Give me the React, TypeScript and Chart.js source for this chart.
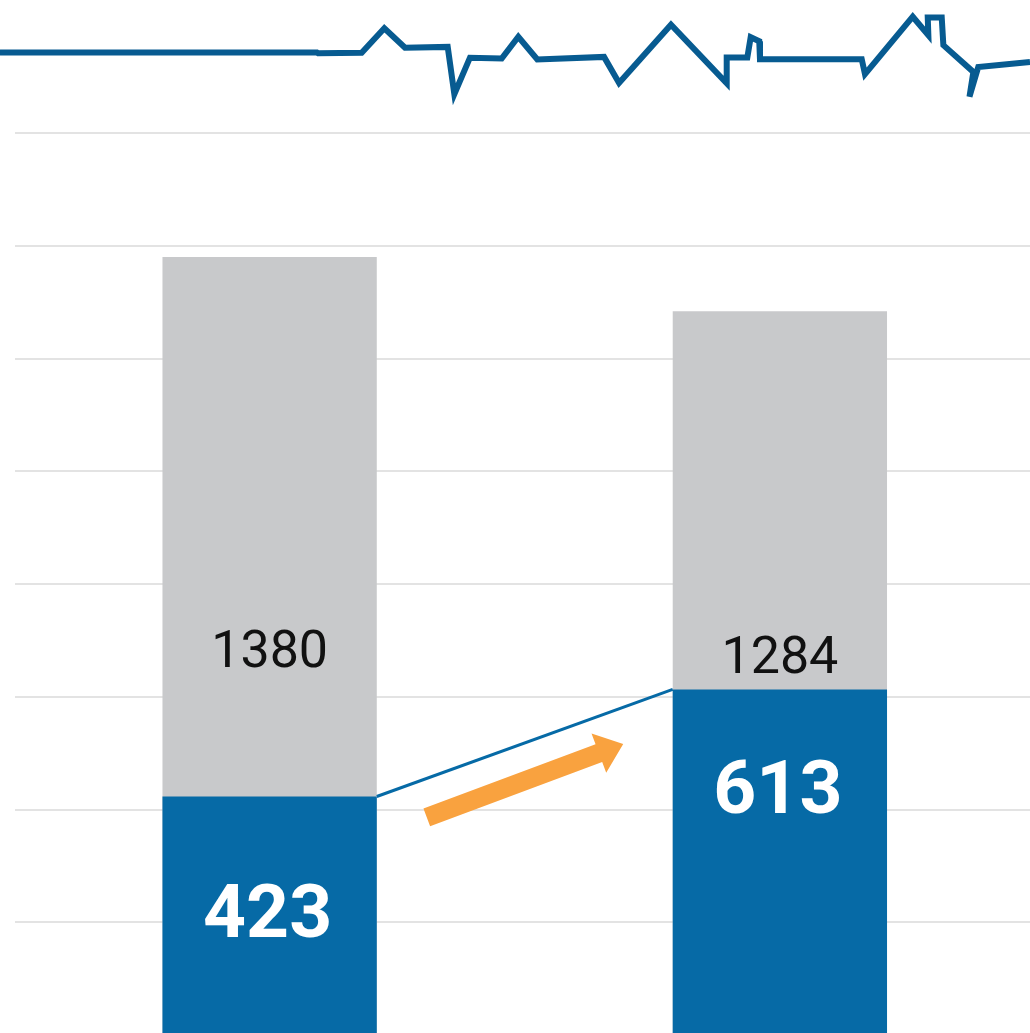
import React, { useEffect, useRef } from 'react';
import { Chart, registerables } from 'chart.js';

Chart.register(...registerables);

// ---- data ----
const categories = ['Period 1', 'Period 2'];
const totalValues = [1380, 1284];
const partValues = [423, 613];
const totalLabels = ['1380', '1284'];
const partLabels = ['423', '613'];

const yMin = 0;
const yMax = 1800;
const yStep = 200;

// decorative skyline line (x on a 0-100 timeline, y in value units)
const skylineX = [-1.42, 29.64, 29.74, 34.02, 36.24, 38.27, 42.45, 43.1, 44.63, 47.74, 49.37, 51.23, 57.77, 59.24, 64.33, 69.79, 69.79, 71.81, 72.14, 72.98, 73.05, 83.02, 83.34, 88.02, 89.55, 89.49, 90.86, 91.02, 93.96, 93.58, 94.44, 99.51];
const skylineY = [1742.8, 1742.8, 1741.6, 1742.4, 1785.9, 1751.3, 1752.7, 1668.8, 1733.6, 1732.2, 1770.8, 1730.4, 1735.0, 1688.9, 1792.1, 1688.3, 1733.9, 1733.9, 1769.9, 1762.8, 1730.9, 1730.9, 1704.3, 1806.3, 1773.5, 1804.9, 1804.9, 1755.8, 1708.4, 1664.4, 1717.2, 1726.1];

// annotation anchors (category index, value)
const totalLabelBaseline = [652, 642];
const partLabelBaseline = [174, 394];
const arrowStart = { x: 0.308, y: 386 };
const arrowEnd = { x: 0.693, y: 516 };

// ---- styles ----
const BLUE = '#066AA6';
const DARK_BLUE = '#075B91';
const GRAY = '#C8C9CB';
const ORANGE = '#F9A23F';
const GRID = '#E3E3E3';

const overlayPlugin = {
  id: 'overlay',
  afterDatasetsDraw(chart: any) {
    const ctx = chart.ctx as CanvasRenderingContext2D;
    const xs = chart.scales.x;
    const ys = chart.scales.y;
    const meta = chart.getDatasetMeta(0);
    const b0 = meta.data[0] as any;
    const b1 = meta.data[1] as any;
    ctx.save();

    // connector
    ctx.strokeStyle = BLUE;
    ctx.lineWidth = 3;
    ctx.beginPath();
    ctx.moveTo(b0.x + b0.width / 2, b0.y);
    ctx.lineTo(b1.x - b1.width / 2, b1.y);
    ctx.stroke();

    // arrow
    const sx = xs.getPixelForValue(arrowStart.x);
    const sy = ys.getPixelForValue(arrowStart.y);
    const tx = xs.getPixelForValue(arrowEnd.x);
    const ty = ys.getPixelForValue(arrowEnd.y);
    const dx = tx - sx;
    const dy = ty - sy;
    const len = Math.hypot(dx, dy);
    const ux = dx / len;
    const uy = dy / len;
    const px = -uy;
    const py = ux;
    const headLen = 26;
    const headHalf = 21;
    const shaftHalf = 9.5;
    const bx = tx - ux * headLen;
    const by = ty - uy * headLen;
    ctx.fillStyle = ORANGE;
    ctx.beginPath();
    ctx.moveTo(sx + px * shaftHalf, sy + py * shaftHalf);
    ctx.lineTo(bx + px * shaftHalf, by + py * shaftHalf);
    ctx.lineTo(bx + px * headHalf, by + py * headHalf);
    ctx.lineTo(tx, ty);
    ctx.lineTo(bx - px * headHalf, by - py * headHalf);
    ctx.lineTo(bx - px * shaftHalf, by - py * shaftHalf);
    ctx.lineTo(sx - px * shaftHalf, sy - py * shaftHalf);
    ctx.closePath();
    ctx.fill();

    // labels
    ctx.textAlign = 'center';
    ctx.textBaseline = 'alphabetic';
    ctx.fillStyle = '#111111';
    ctx.font = '52px Roboto';
    categories.forEach((_, i) => {
      ctx.fillText(totalLabels[i], xs.getPixelForValue(i), ys.getPixelForValue(totalLabelBaseline[i]));
    });
    ctx.fillStyle = '#FFFFFF';
    ctx.font = 'bold 75px Roboto';
    categories.forEach((_, i) => {
      ctx.fillText(partLabels[i], xs.getPixelForValue(i) - 2, ys.getPixelForValue(partLabelBaseline[i]));
    });
    ctx.restore();
  },
};

export default function App() {
  const canvasRef = useRef<HTMLCanvasElement | null>(null);

  useEffect(() => {
    const canvas = canvasRef.current;
    if (!canvas) return;
    const skyline = skylineX.map((x, i) => ({ x, y: skylineY[i] }));
    const chart = new Chart(canvas, {
      type: 'bar',
      data: {
        labels: categories,
        datasets: [
          {
            type: 'bar',
            label: 'Part',
            data: partValues,
            backgroundColor: BLUE,
            grouped: false,
            barPercentage: 0.42,
            categoryPercentage: 1,
            order: 1,
          } as any,
          {
            type: 'bar',
            label: 'Total',
            data: totalValues,
            backgroundColor: GRAY,
            grouped: false,
            barPercentage: 0.42,
            categoryPercentage: 1,
            order: 2,
          } as any,
          {
            type: 'line',
            label: 'Skyline',
            data: skyline,
            xAxisID: 'x2',
            yAxisID: 'y',
            borderColor: DARK_BLUE,
            borderWidth: 6,
            pointRadius: 0,
            tension: 0,
            fill: false,
            clip: false,
            borderJoinStyle: 'miter',
            order: 0,
          } as any,
        ],
      },
      options: {
        responsive: false,
        animation: false,
        devicePixelRatio: 1,
        layout: { padding: { left: 14.5, top: 20.25, right: 0, bottom: 0 } },
        plugins: {
          legend: { display: false },
          tooltip: { enabled: false },
        },
        scales: {
          x: { type: 'category', display: false, offset: true },
          x2: { type: 'linear', display: false, min: 0, max: 100, offset: false, grid: { offset: false } },
          y: {
            type: 'linear',
            min: yMin,
            max: yMax,
            border: { display: false },
            ticks: { display: false, stepSize: yStep },
            grid: {
              drawTicks: false,
              lineWidth: 2,
              color: (c: any) => (c.tick && (c.tick.value === yMax || c.tick.value === yMin) ? 'rgba(0,0,0,0)' : GRID),
            },
          },
        },
      } as any,
      plugins: [overlayPlugin],
    });
    return () => chart.destroy();
  }, []);

  return (
    <div style={{ position: 'fixed', left: 0, top: 0, width: 1030, height: 1033, overflow: 'hidden', background: '#FFFFFF' }}>
      <canvas ref={canvasRef} width={1035} height={1035} style={{ width: 1035, height: 1035, display: 'block' }} />
    </div>
  );
}
